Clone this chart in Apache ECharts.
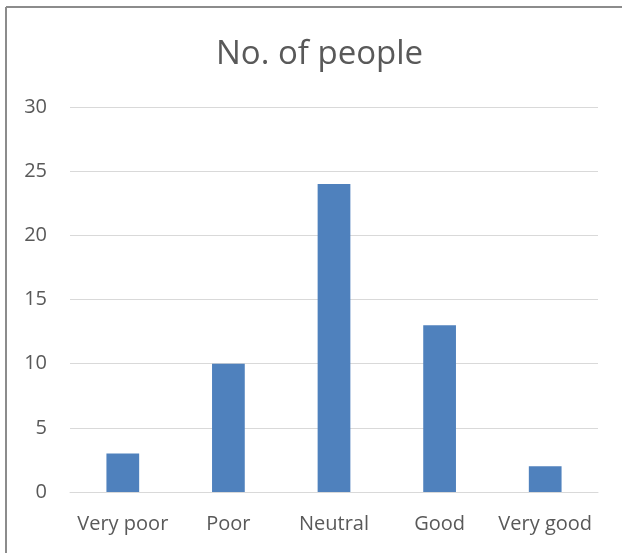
<!DOCTYPE html>
<html>
<head>
<meta charset="utf-8">
<script src="https://cdn.jsdelivr.net/npm/echarts@6/dist/echarts.min.js"></script>
<style>
  html, body { margin: 0; padding: 0; background: #fff; }
  #chart { width: 622px; height: 553px; }
</style>
</head>
<body>
<div id="chart"></div>
<script>
const categories = ['Very poor', 'Poor', 'Neutral', 'Good', 'Very good'];
const counts = [3, 10, 24, 13, 2];
const titleText = 'No. of people';

const textColor = '#595959';
const fontFamily = '"Open Sans", "Noto Sans", sans-serif';

const chart = echarts.init(document.getElementById('chart'));
chart.setOption({
  animation: false,
  title: {
    text: titleText,
    left: 211,
    top: 33,
    textStyle: { color: textColor, fontSize: 33, fontWeight: 'normal', fontFamily: fontFamily }
  },
  grid: { left: 70, right: 24, top: 107, bottom: 61 },
  xAxis: {
    type: 'category',
    data: categories,
    axisLine: { show: true, lineStyle: { color: '#d9d9d9', width: 1 } },
    axisTick: { show: false },
    axisLabel: { color: textColor, fontSize: 20, fontFamily: fontFamily, margin: 22, interval: 0 }
  },
  yAxis: {
    type: 'value',
    min: 0,
    max: 30,
    interval: 5,
    axisLine: { show: false },
    axisTick: { show: false },
    splitLine: { lineStyle: { color: '#d9d9d9', width: 1 } },
    axisLabel: { color: textColor, fontSize: 20, fontFamily: fontFamily, margin: 23, align: 'right' }
  },
  series: [{
    type: 'bar',
    data: counts,
    barWidth: '31%',
    itemStyle: { color: '#4f81bd' }
  }],
  graphic: [
    { type: 'line', shape: { x1: 6, y1: 7, x2: 622, y2: 7 }, style: { stroke: '#8c8c8c', lineWidth: 2 } },
    { type: 'line', shape: { x1: 6, y1: 7, x2: 6, y2: 553 }, style: { stroke: '#8c8c8c', lineWidth: 2 } }
  ]
});
</script>
</body>
</html>
